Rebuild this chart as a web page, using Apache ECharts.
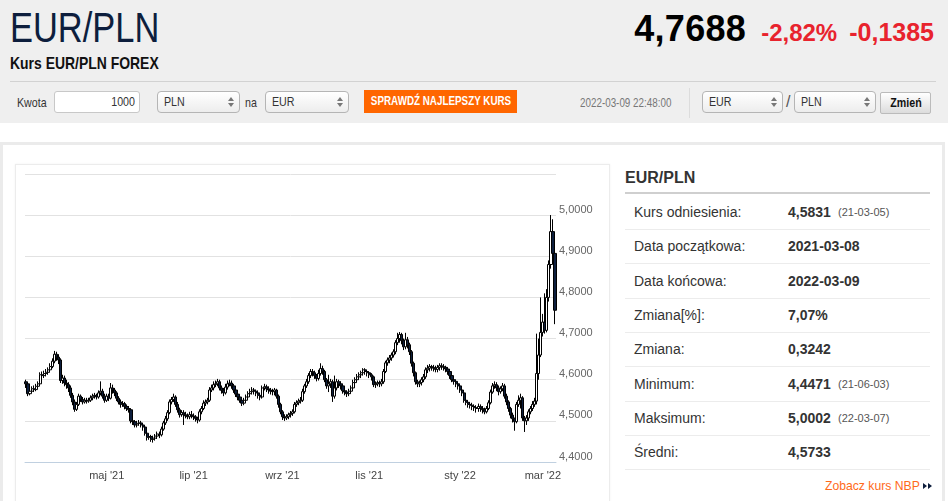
<!DOCTYPE html>
<html><head><meta charset="utf-8">
<script src="https://cdn.jsdelivr.net/npm/echarts@6/dist/echarts.min.js"></script>
<style>
html,body{margin:0;padding:0;width:948px;height:501px;overflow:hidden;background:#fff;font-family:'Liberation Sans',Arial,sans-serif;color:#333;}
.abs{position:absolute;}
.nar{transform:scaleX(0.82);transform-origin:0 0;white-space:nowrap;}
.ns{display:inline-block;transform:scaleX(0.82);transform-origin:0 50%;white-space:nowrap;}
.nc{position:absolute;left:50%;top:0;transform:translateX(-50%) scaleX(0.82);white-space:nowrap;}
#hdr{left:0;top:0;width:948px;height:123px;background:#efefef;}
.sel{position:absolute;height:20px;border:1px solid #b5b5b5;border-radius:4px;background:linear-gradient(#fff,#ededed);font-size:13px;line-height:20px;padding-left:6px;box-sizing:content-box;}
.sel svg{position:absolute;right:5px;top:5px;}
.row{position:absolute;left:625px;width:305px;height:34px;border-bottom:1px solid #ececec;font-size:14px;}
.row .l{position:absolute;left:9px;top:9px;}
.row .v{position:absolute;left:163px;top:9px;font-weight:bold;}
.row .d{position:absolute;left:213px;top:11px;font-size:11px;color:#555;}
</style></head>
<body>
<div id="hdr" class="abs"></div>
<div class="abs nar" style="left:10px;top:7px;font-size:42px;line-height:42px;color:#0d1e3d;">EUR/PLN</div>
<div class="abs nar" style="left:10px;top:55px;font-size:17px;line-height:17px;font-weight:bold;color:#111;">Kurs EUR/PLN FOREX</div>
<div class="abs" style="right:14px;top:8px;height:40px;display:flex;align-items:baseline;white-space:nowrap;">
  <span style="font-size:36px;font-weight:bold;color:#000;letter-spacing:0.3px;">4,7688</span>
  <span style="font-size:24px;font-weight:bold;color:#e8232d;margin-left:15px;">-2,82%</span>
  <span style="font-size:25px;font-weight:bold;color:#e8232d;margin-left:12px;">-0,1385</span>
</div>
<div class="abs" style="left:10px;top:81px;width:926px;height:1px;background:#d2d2d2;"></div>

<div class="abs nar" style="left:17px;top:95px;font-size:13px;">Kwota</div>
<div class="abs" style="left:54px;top:91px;width:80px;height:20px;border:1px solid #c8c8c8;border-radius:3px;background:#fff;font-size:13px;line-height:20px;text-align:right;padding-right:4px;"><span class="ns" style="transform-origin:100% 50%;">1000</span></div>
<div class="sel" style="left:157px;top:91px;width:75px;"><span class="ns">PLN</span><svg width="6" height="10"><path d="M0 4L3 0L6 4Z M0 6L3 10L6 6Z" fill="#777"/></svg></div>
<div class="abs nar" style="left:245px;top:95px;font-size:13px;">na</div>
<div class="sel" style="left:265px;top:91px;width:76px;"><span class="ns">EUR</span><svg width="6" height="10"><path d="M0 4L3 0L6 4Z M0 6L3 10L6 6Z" fill="#777"/></svg></div>
<div class="abs" style="left:364px;top:90px;width:153px;height:23px;background:#ff6600;color:#fff;font-weight:bold;font-size:12px;line-height:23px;"><span class="nc">SPRAWDŹ NAJLEPSZY KURS</span></div>
<div class="abs nar" style="left:580px;top:96px;font-size:12px;color:#777;">2022-03-09 22:48:00</div>
<div class="abs" style="left:689px;top:88px;width:1px;height:30px;background:#dcdcdc;"></div>
<div class="sel" style="left:702px;top:91px;width:73px;"><span class="ns">EUR</span><svg width="6" height="10"><path d="M0 4L3 0L6 4Z M0 6L3 10L6 6Z" fill="#777"/></svg></div>
<div class="abs" style="left:786px;top:93px;font-size:16px;color:#555;">/</div>
<div class="sel" style="left:794px;top:91px;width:74px;"><span class="ns">PLN</span><svg width="6" height="10"><path d="M0 4L3 0L6 4Z M0 6L3 10L6 6Z" fill="#777"/></svg></div>
<div class="abs" style="left:880px;top:92px;width:49px;height:20px;border:1px solid #bbb;border-radius:2px;background:linear-gradient(#fff,#dcdcdc);font-size:13px;font-weight:bold;line-height:20px;color:#111;"><span class="nc">Zmień</span></div>

<div class="abs" style="left:0;top:142px;width:945px;height:3px;background:#ebebeb;"></div>
<div class="abs" style="left:0;top:142px;width:3px;height:360px;background:#ebebeb;"></div>
<div class="abs" style="left:942px;top:142px;width:3px;height:360px;background:#ebebeb;"></div>

<div class="abs" style="left:15px;top:164px;width:593px;height:345px;border:1px solid #ececec;box-shadow:0 0 2px rgba(0,0,0,0.06);"></div>
<div id="chart" class="abs" style="left:15px;top:164px;width:594px;height:337px;"></div>

<div class="abs" style="left:625px;top:169px;font-size:16px;font-weight:bold;color:#333;">EUR/PLN</div>
<div class="abs" style="left:625px;top:192px;width:305px;height:2px;background:#cfcfcf;"></div>
<div id="tbl"></div>
<div class="abs" style="left:825px;top:479px;font-size:12.2px;color:#ff6a1a;white-space:nowrap;">Zobacz kurs NBP <svg width="9" height="8" style="margin-left:0px"><path d="M0 1L4 4L0 7Z M5 1L9 4L5 7Z" fill="#0d1e3d"/></svg></div>

<script>
// ---- data ----
const firstDay = '2021-03-08';
const lastDay = '2022-03-09';
const monthNames = ['sty','lut','mar','kwi','maj','cze','lip','sie','wrz','paź','lis','gru'];
const yTicks = [4.4, 4.5, 4.6, 4.7, 4.8, 4.9, 5.0, 5.1];
// [open, close, low, high] for each trading day
const candles = [
[4.595,4.590,4.580,4.600],[4.590,4.566,4.560,4.594],[4.566,4.572,4.562,4.580],[4.572,4.578,4.568,4.584],[4.578,4.576,4.570,4.586],
[4.576,4.584,4.572,4.590],[4.584,4.590,4.580,4.596],[4.590,4.612,4.588,4.618],[4.612,4.610,4.602,4.620],[4.610,4.615,4.604,4.622],
[4.615,4.618,4.608,4.626],[4.618,4.624,4.612,4.630],[4.624,4.632,4.618,4.640],[4.632,4.645,4.628,4.652],[4.645,4.662,4.640,4.670],
[4.662,4.655,4.646,4.668],[4.655,4.648,4.638,4.662],[4.648,4.598,4.592,4.652],[4.598,4.604,4.590,4.612],[4.604,4.592,4.584,4.610],
[4.592,4.588,4.578,4.600],[4.588,4.580,4.570,4.594],[4.580,4.562,4.556,4.586],[4.562,4.546,4.538,4.568],[4.546,4.528,4.522,4.552],
[4.528,4.540,4.524,4.546],[4.540,4.560,4.536,4.566],[4.560,4.552,4.546,4.564],[4.552,4.546,4.540,4.558],[4.546,4.550,4.542,4.556],
[4.550,4.548,4.542,4.556],[4.548,4.550,4.544,4.556],[4.550,4.556,4.546,4.562],[4.556,4.560,4.550,4.566],[4.560,4.562,4.554,4.568],
[4.562,4.558,4.552,4.566],[4.558,4.568,4.554,4.574],[4.568,4.572,4.562,4.596],[4.572,4.560,4.554,4.578],[4.560,4.550,4.544,4.566],
[4.550,4.560,4.546,4.566],[4.560,4.555,4.548,4.566],[4.555,4.580,4.552,4.592],[4.580,4.575,4.566,4.588],[4.575,4.568,4.560,4.580],
[4.568,4.555,4.548,4.572],[4.555,4.546,4.540,4.560],[4.546,4.540,4.532,4.552],[4.540,4.542,4.534,4.548],[4.542,4.535,4.528,4.546],
[4.535,4.530,4.524,4.540],[4.530,4.527,4.520,4.536],[4.527,4.500,4.494,4.530],[4.500,4.498,4.490,4.506],[4.498,4.490,4.484,4.502],
[4.490,4.494,4.484,4.500],[4.494,4.495,4.488,4.502],[4.495,4.490,4.484,4.500],[4.490,4.485,4.476,4.494],[4.485,4.470,4.464,4.488],
[4.470,4.460,4.452,4.474],[4.460,4.462,4.454,4.468],[4.462,4.455,4.449,4.466],[4.455,4.458,4.4471,4.464],[4.458,4.463,4.452,4.468],
[4.463,4.468,4.456,4.474],[4.468,4.466,4.458,4.474],[4.466,4.480,4.462,4.486],[4.480,4.495,4.476,4.500],[4.495,4.505,4.490,4.512],
[4.505,4.520,4.500,4.526],[4.520,4.546,4.516,4.552],[4.546,4.552,4.540,4.558],[4.552,4.558,4.546,4.566],[4.558,4.540,4.534,4.562],
[4.540,4.527,4.520,4.546],[4.527,4.515,4.508,4.532],[4.515,4.520,4.510,4.526],[4.520,4.515,4.490,4.526],[4.515,4.512,4.506,4.522],
[4.512,4.510,4.504,4.518],[4.510,4.515,4.504,4.522],[4.515,4.512,4.506,4.524],[4.512,4.510,4.502,4.518],[4.510,4.506,4.498,4.514],
[4.506,4.502,4.494,4.510],[4.502,4.522,4.498,4.528],[4.522,4.530,4.516,4.536],[4.530,4.543,4.526,4.550],[4.543,4.546,4.536,4.552],
[4.546,4.550,4.540,4.556],[4.550,4.575,4.546,4.582],[4.575,4.580,4.570,4.588],[4.580,4.588,4.574,4.596],[4.588,4.590,4.582,4.598],
[4.590,4.595,4.584,4.602],[4.595,4.580,4.574,4.600],[4.580,4.574,4.566,4.586],[4.574,4.568,4.560,4.580],[4.568,4.582,4.564,4.590],
[4.582,4.590,4.576,4.598],[4.590,4.592,4.584,4.600],[4.592,4.585,4.578,4.598],[4.585,4.575,4.568,4.590],[4.575,4.565,4.558,4.580],
[4.565,4.558,4.550,4.570],[4.558,4.550,4.544,4.562],[4.550,4.543,4.536,4.556],[4.543,4.550,4.538,4.556],[4.550,4.558,4.544,4.564],
[4.558,4.566,4.552,4.572],[4.566,4.571,4.560,4.578],[4.571,4.575,4.564,4.582],[4.575,4.572,4.564,4.580],[4.572,4.568,4.560,4.576],
[4.568,4.562,4.554,4.574],[4.562,4.558,4.550,4.568],[4.558,4.580,4.554,4.586],[4.580,4.583,4.574,4.590],[4.583,4.578,4.570,4.588],
[4.578,4.575,4.566,4.584],[4.575,4.572,4.564,4.580],[4.572,4.571,4.562,4.578],[4.571,4.575,4.562,4.580],[4.575,4.560,4.554,4.578],
[4.560,4.540,4.532,4.564],[4.540,4.522,4.516,4.544],[4.522,4.510,4.502,4.526],[4.510,4.507,4.500,4.516],[4.507,4.510,4.502,4.516],
[4.510,4.515,4.504,4.520],[4.515,4.518,4.508,4.524],[4.518,4.522,4.512,4.528],[4.522,4.540,4.518,4.546],[4.540,4.544,4.534,4.550],
[4.544,4.548,4.538,4.554],[4.548,4.550,4.542,4.558],[4.550,4.571,4.546,4.578],[4.571,4.585,4.566,4.590],[4.585,4.595,4.580,4.602],
[4.595,4.610,4.590,4.616],[4.610,4.620,4.604,4.626],[4.620,4.617,4.608,4.626],[4.617,4.610,4.602,4.622],[4.610,4.603,4.596,4.614],
[4.603,4.615,4.598,4.624],[4.615,4.627,4.610,4.640],[4.627,4.620,4.612,4.634],[4.620,4.600,4.594,4.624],[4.600,4.585,4.578,4.604],
[4.585,4.590,4.570,4.612],[4.590,4.595,4.580,4.602],[4.595,4.560,4.546,4.600],[4.560,4.580,4.554,4.610],[4.580,4.595,4.574,4.602],
[4.595,4.590,4.580,4.600],[4.590,4.585,4.576,4.596],[4.585,4.573,4.566,4.590],[4.573,4.570,4.562,4.578],[4.570,4.566,4.558,4.574],
[4.566,4.572,4.560,4.578],[4.572,4.580,4.566,4.586],[4.580,4.593,4.576,4.600],[4.593,4.600,4.588,4.606],[4.600,4.607,4.594,4.614],
[4.607,4.612,4.600,4.618],[4.612,4.617,4.604,4.622],[4.617,4.624,4.610,4.628],[4.624,4.620,4.612,4.628],[4.620,4.617,4.608,4.624],
[4.617,4.612,4.604,4.620],[4.612,4.607,4.598,4.616],[4.607,4.588,4.582,4.610],[4.588,4.590,4.580,4.596],[4.590,4.593,4.584,4.598],
[4.593,4.590,4.582,4.598],[4.590,4.595,4.584,4.602],[4.595,4.620,4.590,4.626],[4.620,4.641,4.616,4.646],[4.641,4.648,4.634,4.654],
[4.648,4.653,4.640,4.660],[4.653,4.660,4.646,4.666],[4.660,4.668,4.654,4.674],[4.668,4.690,4.662,4.696],[4.690,4.700,4.684,4.714],
[4.700,4.710,4.690,4.716],[4.710,4.695,4.686,4.714],[4.695,4.680,4.672,4.700],[4.680,4.697,4.674,4.714],[4.697,4.685,4.676,4.704],
[4.685,4.668,4.660,4.690],[4.668,4.640,4.632,4.672],[4.640,4.617,4.608,4.644],[4.617,4.595,4.588,4.620],[4.595,4.590,4.582,4.600],
[4.590,4.593,4.582,4.598],[4.593,4.600,4.586,4.606],[4.600,4.607,4.594,4.614],[4.607,4.624,4.602,4.630],[4.624,4.628,4.616,4.636],
[4.628,4.632,4.620,4.638],[4.632,4.630,4.622,4.636],[4.630,4.628,4.620,4.636],[4.628,4.625,4.618,4.634],[4.625,4.630,4.618,4.636],
[4.630,4.634,4.622,4.640],[4.634,4.632,4.624,4.640],[4.632,4.630,4.622,4.638],[4.630,4.626,4.618,4.634],[4.626,4.620,4.612,4.630],
[4.620,4.610,4.602,4.624],[4.610,4.600,4.594,4.614],[4.600,4.596,4.588,4.606],[4.596,4.590,4.582,4.600],[4.590,4.585,4.576,4.594],
[4.585,4.575,4.568,4.590],[4.575,4.568,4.560,4.580],[4.568,4.550,4.544,4.572],[4.550,4.545,4.538,4.556],[4.545,4.540,4.532,4.550],
[4.540,4.538,4.530,4.546],[4.538,4.535,4.526,4.544],[4.535,4.532,4.524,4.540],[4.532,4.530,4.520,4.538],[4.530,4.535,4.522,4.542],
[4.535,4.530,4.522,4.540],[4.530,4.527,4.518,4.536],[4.527,4.522,4.516,4.532],[4.522,4.530,4.518,4.536],[4.530,4.544,4.526,4.550],
[4.544,4.570,4.540,4.576],[4.570,4.585,4.566,4.592],[4.585,4.588,4.578,4.596],[4.588,4.580,4.572,4.594],[4.580,4.571,4.562,4.586],
[4.571,4.578,4.566,4.584],[4.578,4.585,4.572,4.592],[4.585,4.560,4.554,4.590],[4.560,4.546,4.538,4.566],[4.546,4.530,4.522,4.550],
[4.530,4.514,4.506,4.534],[4.514,4.505,4.496,4.520],[4.505,4.498,4.476,4.508],[4.498,4.540,4.494,4.546],[4.540,4.550,4.534,4.562],
[4.550,4.556,4.530,4.566],[4.556,4.507,4.500,4.560],[4.507,4.500,4.473,4.512],[4.500,4.507,4.490,4.514],[4.507,4.522,4.500,4.528],
[4.522,4.530,4.516,4.536],[4.530,4.540,4.524,4.548],[4.540,4.548,4.534,4.556],[4.548,4.615,4.540,4.712],[4.615,4.660,4.600,4.700],
[4.660,4.715,4.655,4.800],[4.715,4.740,4.705,4.760],[4.740,4.720,4.712,4.810],[4.720,4.800,4.715,4.820],[4.800,4.880,4.790,4.890],
[4.880,4.960,4.870,5.0002],[4.960,4.907,4.890,4.990],[4.907,4.7688,4.735,4.912]
];
const tableLabels = ['Kurs odniesienia:','Data początkowa:','Data końcowa:','Zmiana[%]:','Zmiana:','Minimum:','Maksimum:','Średni:'];
const tableValues = ['4,5831','2021-03-08','2022-03-09','7,07%','0,3242','4,4471','5,0002','4,5733'];
const tableDates = ['(21-03-05)','','','','','(21-06-03)','(22-03-07)',''];

// ---- categories: trading days (Mon-Fri) ----
const dates = [];
for (let d = new Date(firstDay + 'T00:00:00Z'); d <= new Date(lastDay + 'T00:00:00Z'); d.setUTCDate(d.getUTCDate() + 1)) {
  const wd = d.getUTCDay();
  if (wd !== 0 && wd !== 6) dates.push(d.toISOString().slice(0, 10));
}
const monthOf = s => parseInt(s.slice(5, 7), 10);
const isTick = dates.map((s, i) => i > 0 && monthOf(s) !== monthOf(dates[i - 1]) && monthOf(s) % 2 === 1);

// ---- table ----
const tbl = document.getElementById('tbl');
tableLabels.forEach((lab, i) => {
  const r = document.createElement('div');
  r.className = 'row';
  r.style.top = (195 + i * 34.3) + 'px';
  r.innerHTML = '<span class="l">' + lab + '</span><span class="v">' + tableValues[i] + '</span>' +
    (tableDates[i] ? '<span class="d">' + tableDates[i] + '</span>' : '');
  tbl.appendChild(r);
});

// ---- chart ----
const chart = echarts.init(document.getElementById('chart'));
chart.setOption({
  animation: false,
  grid: { left: 10, right: 53, top: 10, bottom: 39 },
  xAxis: {
    type: 'category', data: dates, boundaryGap: true,
    axisLine: { lineStyle: { color: '#c0d0e0', width: 1 } },
    axisTick: { alignWithLabel: true, interval: i => isTick[i], length: 5, lineStyle: { color: '#c0d0e0' } },
    axisLabel: {
      interval: i => isTick[i], color: '#444', fontSize: 11, margin: 8, fontFamily: 'Liberation Sans',
      formatter: v => monthNames[monthOf(v) - 1] + " '" + v.slice(2, 4)
    },
    splitLine: { show: false }
  },
  yAxis: {
    type: 'value', position: 'right', min: yTicks[0], max: yTicks[yTicks.length - 1], interval: 0.1,
    axisLine: { show: false }, axisTick: { show: false },
    axisLabel: {
      color: '#666', fontSize: 11, margin: 3, verticalAlign: 'bottom', fontFamily: 'Liberation Sans',
      formatter: v => v > 5.05 ? '' : v.toFixed(4).replace('.', ',')
    },
    splitLine: { lineStyle: { color: '#e2e2e2', width: 1 } }
  },
  series: [{
    type: 'candlestick', data: candles, barWidth: 2.6, barMinWidth: 2.6,
    itemStyle: { color: '#ffffff', color0: '#0d1e3d', borderColor: '#000000', borderColor0: '#000000', borderWidth: 1 }
  }]
});
</script>
</body></html>
